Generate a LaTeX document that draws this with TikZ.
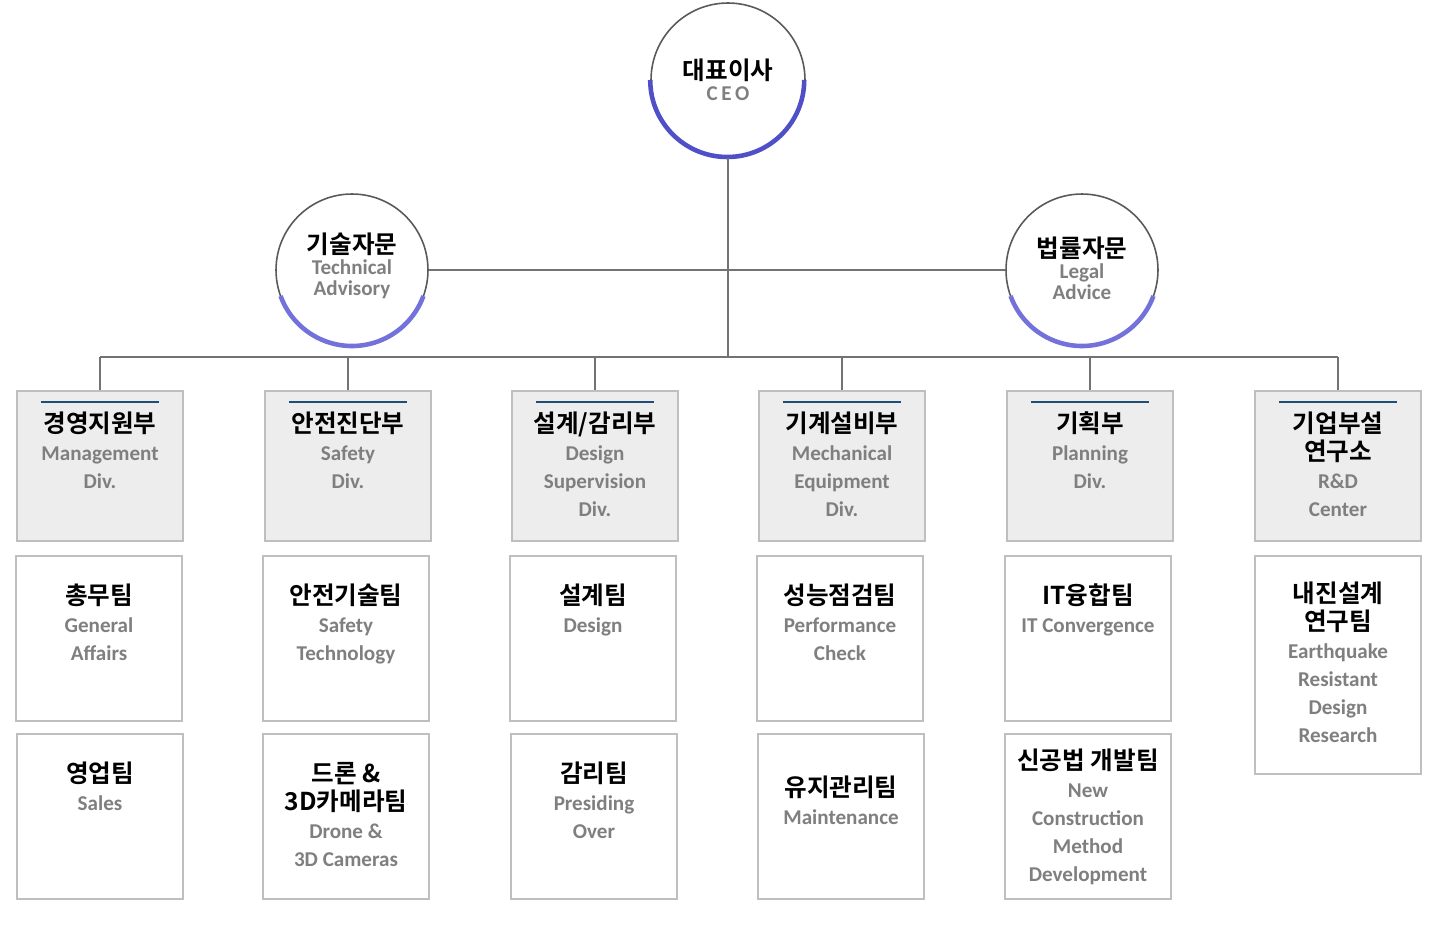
\documentclass[tikz,border=0pt]{standalone}
\usepackage{fontspec}
\setmainfont{Carlito}
\newfontfamily\kor{Noto Sans CJK KR}[BoldFont={* Bold}]
\definecolor{ceoblue}{HTML}{4F4FC8}
\definecolor{advblue}{HTML}{7272DA}
\definecolor{darkline}{HTML}{1F4E79}
\definecolor{engray}{HTML}{7F7F7F}
\definecolor{boxgray}{HTML}{BFBFBF}
\tikzset{
  divbox/.style={draw=boxgray,line width=1.2pt,fill=black!7,minimum width=3.32cm,minimum height=3.0cm,inner sep=0pt},
  teambox/.style={draw=boxgray,line width=1.2pt,fill=white,minimum width=3.32cm,inner sep=0pt},
  conn/.style={draw=black!55,line width=1pt},
  krfont/.style={font=\kor\bfseries\fontsize{14}{15.9}\selectfont},
}
\newcommand{\krtxt}[1]{{\kor\bfseries\fontsize{14}{15.9}\selectfont #1}}
\newcommand{\entxt}[1]{{\rmfamily\bfseries\color{engray}\fontsize{12}{15.9}\selectfont #1}}
\begin{document}
\begin{tikzpicture}[x=0.02cm,y=-0.02cm]
\useasboundingbox (0,0) rectangle (1455,943);
% circles
\node (ceo) [circle,draw=black!65,line width=0.9pt,minimum size=3.08cm] at (728,80) {};
\draw[ceoblue,line width=2.6pt] (ceo.west) arc[start angle=180,end angle=0,radius=77];
\node at (728,80) [align=center] {\krtxt{대표이사}\\\entxt{C\,E\,O}};
\node (tech) [circle,draw=black!65,line width=0.9pt,minimum size=3.04cm] at (352,270) {};
\draw[advblue,line width=2.6pt] (352,270) ++(160:76) arc[start angle=160,end angle=20,radius=76];
\node at (352,266) [align=center] {\krtxt{기술자문}\\\entxt{Technical}\\\entxt{Advisory}};
\node (legal) [circle,draw=black!65,line width=0.9pt,minimum size=3.04cm] at (1082,270) {};
\draw[advblue,line width=2.6pt] (1082,270) ++(160:76) arc[start angle=160,end angle=20,radius=76];
\node at (1082,268) [align=center] {\krtxt{법률자문}\\\entxt{Legal}\\\entxt{Advice}};
% connectors
\coordinate (bus) at (728,357);
\draw[conn] (ceo.south) -- (bus);
\draw[conn] (tech.east) -- (legal.west);
\draw[conn] (100,357) -- (1338,357);
% divisions
\foreach \x/\name/\kr/\en in {100/mgmt/{경영지원부}/{\entxt{Management}\\\entxt{Div.}},348/safety/{안전진단부}/{\entxt{Safety}\\\entxt{Div.}},595/design/{설계/감리부}/{\entxt{Design}\\\entxt{Supervision}\\\entxt{Div.}},842/mech/{기계설비부}/{\entxt{Mechanical}\\\entxt{Equipment}\\\entxt{Div.}},1090/plan/{기획부}/{\entxt{Planning}\\\entxt{Div.}},1338/rnd/{기업부설\\연구소}/{\entxt{R\&D}\\\entxt{Center}}}{
  \node (\name) [divbox,anchor=north] at (\x,390) {};
  \draw[conn] (\x,357) -- (\name.north);
  \draw[darkline,line width=1.2pt] (\x-59,402) -- (\x+59,402);
  \node[anchor=north,align=center,krfont] at (\x,406) {\kr\\\en};
}
% teams row 1
\foreach \x/\name/\kr/\en in {99/ga/{총무팀}/{\entxt{General}\\\entxt{Affairs}},346/st/{안전기술팀}/{\entxt{Safety}\\\entxt{Technology}},593/dt/{설계팀}/{\entxt{Design}},840/pc/{성능점검팀}/{\entxt{Performance}\\\entxt{Check}},1088/it/{IT융합팀}/{\entxt{IT Convergence}}}{
  \node (\name) [teambox,minimum height=3.3cm,anchor=north] at (\x,555) {};
  \node[anchor=north,align=center,krfont] at (\x,578) {\kr\\\en};
}
\node (eq) [teambox,minimum height=4.36cm,anchor=north] at (1338,555) {};
\node[anchor=north,align=center,krfont] at (1338,576) {내진설계\\연구팀\\\entxt{Earthquake}\\\entxt{Resistant}\\\entxt{Design}\\\entxt{Research}};
% teams row 2
\foreach \x/\ty/\name/\kr/\en in {100/756/sales/{영업팀}/{\entxt{Sales}},346/756/drone/{드론 \&\\3D카메라팀}/{\entxt{Drone \&}\\\entxt{3D Cameras}},594/756/sup/{감리팀}/{\entxt{Presiding}\\\entxt{Over}},841/770/mt/{유지관리팀}/{\entxt{Maintenance}},1088/743/nc/{신공법 개발팀}/{\entxt{New}\\\entxt{Construction}\\\entxt{Method}\\\entxt{Development}}}{
  \node (\name) [teambox,minimum height=3.3cm,anchor=north] at (\x,733) {};
  \node[anchor=north,align=center,krfont] at (\x,\ty) {\kr\\\en};
}
\end{tikzpicture}
\end{document}
